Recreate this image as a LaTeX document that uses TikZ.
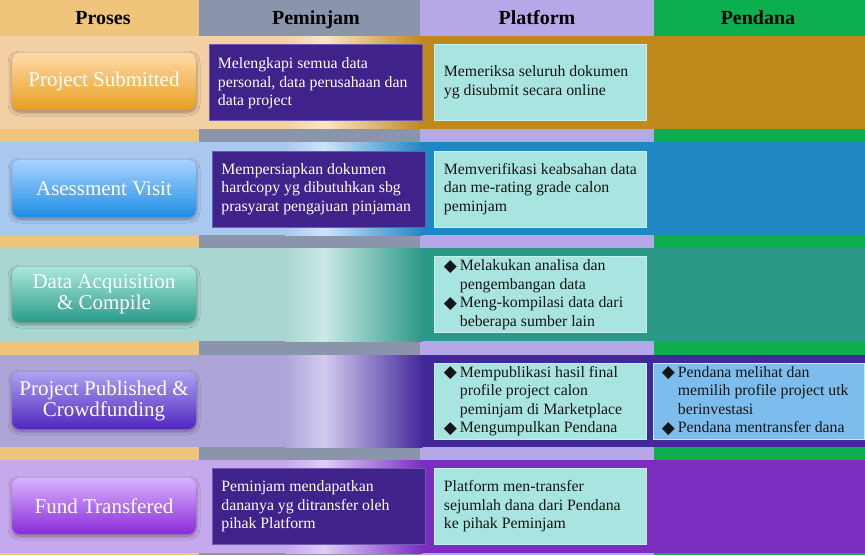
\documentclass[tikz,border=0pt]{standalone}
\usepackage{fontspec}
\setmainfont{Liberation Serif}
\newfontfamily\symfont{DejaVu Sans}
\usetikzlibrary{shadows.blur}

% column colours
\definecolor{colProses}{HTML}{EEC57B}
\definecolor{colPeminjam}{HTML}{8A95AB}
\definecolor{colPlatform}{HTML}{B6A7E8}
\definecolor{colPendana}{HTML}{0DAE4E}
% row band colours: base, highlight, dark
\definecolor{rAbase}{HTML}{F3D0A4}\definecolor{rAhi}{HTML}{FBE5CA}\definecolor{rAdk}{HTML}{C0891B}
\definecolor{rBbase}{HTML}{A9C8EF}\definecolor{rBhi}{HTML}{CFE3FA}\definecolor{rBdk}{HTML}{1F87C3}
\definecolor{rCbase}{HTML}{A9D6D0}\definecolor{rChi}{HTML}{CBE9E5}\definecolor{rCdk}{HTML}{2C9888}
\definecolor{rDbase}{HTML}{ADA5D8}\definecolor{rDhi}{HTML}{D2CBEF}\definecolor{rDdk}{HTML}{43289A}
\definecolor{rEbase}{HTML}{C6A9EC}\definecolor{rEhi}{HTML}{E0CCF8}\definecolor{rEdk}{HTML}{7A2DBF}
% button colours
\definecolor{bAtop}{HTML}{FFDAA8}\definecolor{bAbot}{HTML}{E89F22}
\definecolor{bBtop}{HTML}{AAD2FF}\definecolor{bBbot}{HTML}{1E8EE6}
\definecolor{bCtop}{HTML}{AAE7DB}\definecolor{bCbot}{HTML}{2A9C8B}
\definecolor{bDtop}{HTML}{ADA2F2}\definecolor{bDbot}{HTML}{5026BE}
\definecolor{bEtop}{HTML}{D8B4FC}\definecolor{bEbot}{HTML}{8A2ADA}
% boxes
\definecolor{pemFill}{HTML}{3F228A}
\definecolor{pemLine}{HTML}{6C5CB4}
\definecolor{platFill}{HTML}{A8E5E1}
\definecolor{platLine}{HTML}{C4F0EE}
\definecolor{pendFill}{HTML}{7DBDED}
\definecolor{ink}{HTML}{151515}

\newcommand\bodyfont{\fontsize{15.8}{18.5}\selectfont}
\newcommand\dia{\makebox[16pt][l]{\raisebox{-0.5pt}{\symfont\fontsize{17}{17}\selectfont ◆}}}
\newcommand\ind{\hspace*{16pt}}

% one row band: y-top, y-bottom, base, highlight, dark
\newcommand\rowband[5]{%
  \fill[#3] (0,#1) rectangle (285.5,#2);
  \shade[left color=#3,right color=#4] (285,#1) rectangle (324.5,#2);
  \shade[left color=#4,right color=#5] (324,#1) rectangle (422.5,#2);
  \fill[#5] (422,#1) rectangle (865,#2);}

\tikzset{
  header/.style={font=\fontsize{20}{22}\selectfont\bfseries, text=black, anchor=base},
  button/.style={rounded corners=8pt, minimum width=184pt, minimum height=57pt,
    align=center, text=white, font=\fontsize{21}{21}\selectfont,
    blur shadow={shadow xshift=0pt, shadow yshift=-2pt, shadow blur steps=6,
      shadow blur radius=4pt, shadow opacity=40}},
  cellbox/.style={line width=0.6pt, minimum height=76pt, inner sep=0pt},
  pembox/.style={cellbox, fill=pemFill, draw=pemLine, minimum width=213pt},
  platbox/.style={cellbox, fill=platFill, draw=platLine, minimum width=212pt},
  pendbox/.style={cellbox, fill=pendFill, draw=platLine, minimum width=211pt},
  celltext/.style={anchor=west, align=left, inner sep=0pt, font=\bodyfont, text=ink},
  pemtext/.style={celltext, text=white},
}

\begin{document}
\begin{tikzpicture}[x=1pt, y=-1pt]
\useasboundingbox (0,0) rectangle (865,555);

% columns
\fill[colProses]   (0,0)   rectangle (199.5,555);
\fill[colPeminjam] (199,0) rectangle (420.5,555);
\fill[colPlatform] (420,0) rectangle (654.5,555);
\fill[colPendana]  (654,0) rectangle (865,555);

% headers
\node[header] (hProses)   at (103,24) {Proses};
\node[header] (hPeminjam) at (316,24) {Peminjam};
\node[header] (hPlatform) at (537,24) {Platform};
\node[header] (hPendana)  at (758,24) {Pendana};

% row bands
\rowband{36}{128.5}{rAbase}{rAhi}{rAdk}
\rowband{142}{235}{rBbase}{rBhi}{rBdk}
\rowband{248}{341}{rCbase}{rChi}{rCdk}
\rowband{355}{447}{rDbase}{rDhi}{rDdk}
\rowband{460}{553}{rEbase}{rEhi}{rEdk}

% process buttons
\node[button, top color=bAtop, bottom color=bAbot] (s1) at (104,81.5)  {Project Submitted};
\node[button, top color=bBtop, bottom color=bBbot] (s2) at (104,188.5) {Asessment Visit};
\node[button, top color=bCtop, bottom color=bCbot, minimum height=55pt] (s3) at (104,294.5) {Data Acquisition\\\& Compile};
\node[button, top color=bDtop, bottom color=bDbot] (s4) at (104,400.5) {Project Published \&\\Crowdfunding};
\node[button, top color=bEtop, bottom color=bEbot, minimum height=56pt] (s5) at (104,506) {Fund Transfered};

% Peminjam
\node[pembox] (p1) at (315.5,82) {};
\node[pemtext] (p1t) at ([xshift=9pt,yshift=-1.5pt]p1.west) {Melengkapi semua data\\personal, data perusahaan dan\\data project};
\node[pembox] (p2) at (319,189) {};
\node[pemtext] (p2t) at ([xshift=9pt]p2.west) {Mempersiapkan dokumen\\hardcopy yg dibutuhkan sbg\\prasyarat pengajuan pinjaman};
\node[pembox] (p5) at (319,506.5) {};
\node[pemtext] (p5t) at ([xshift=9pt]p5.west) {Peminjam mendapatkan\\dananya yg ditransfer oleh\\pihak Platform};

% Platform
\node[platbox] (f1) at (540,82) {};
\node[celltext] (f1t) at ([xshift=10pt]f1.west) {Memeriksa seluruh dokumen\\yg disubmit secara online};
\node[platbox] (f2) at (540,189) {};
\node[celltext] (f2t) at ([xshift=10pt]f2.west) {Memverifikasi keabsahan data\\dan me-rating grade calon\\peminjam};
\node[platbox] (f3) at (540,294.5) {};
\node[celltext] (f3t) at ([xshift=10pt]f3.west) {\dia Melakukan analisa dan\\\ind pengembangan data\\\dia Meng-kompilasi data dari\\\ind beberapa sumber lain};
\node[platbox] (f4) at (540,401) {};
\node[celltext] (f4t) at ([xshift=10pt]f4.west) {\dia Mempublikasi hasil final\\\ind profile project calon\\\ind peminjam di Marketplace\\\dia Mengumpulkan Pendana};
\node[platbox] (f5) at (540,506.5) {};
\node[celltext] (f5t) at ([xshift=10pt]f5.west) {Platform men-transfer\\sejumlah dana dari Pendana\\ke pihak Peminjam};

% Pendana
\node[pendbox] (d4) at (758.5,401) {};
\node[celltext] (d4t) at ([xshift=9pt]d4.west) {\dia Pendana melihat dan\\\ind memilih profile project utk\\\ind berinvestasi\\\dia Pendana mentransfer dana};
\end{tikzpicture}
\end{document}
